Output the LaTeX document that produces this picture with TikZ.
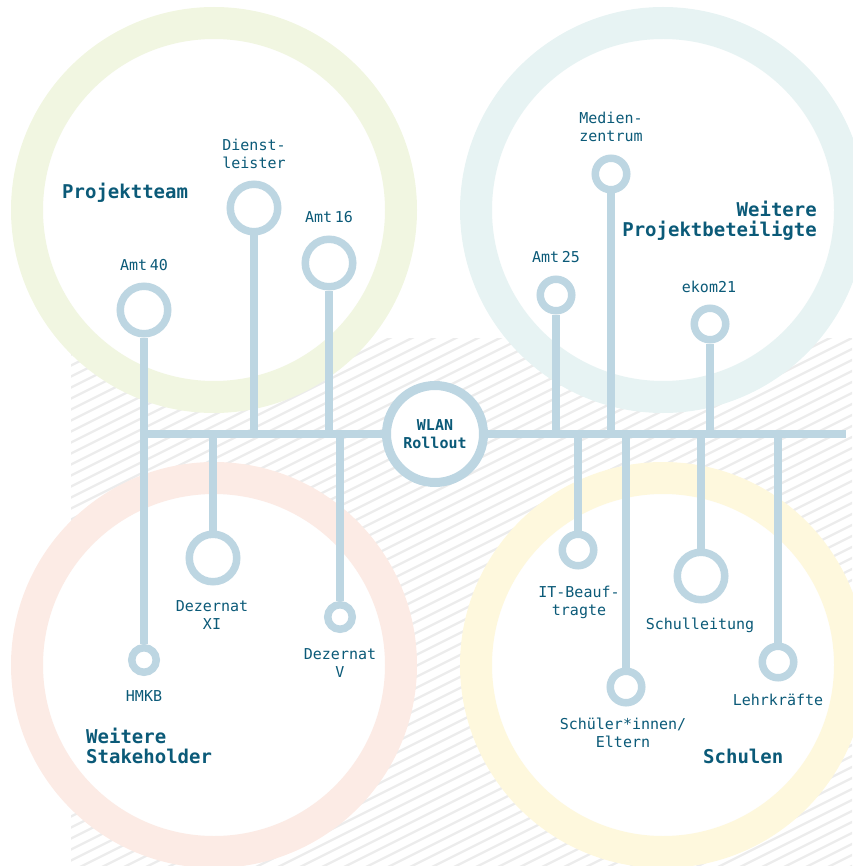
\documentclass[tikz,border=0pt]{standalone}
\usepackage{fontspec}
\newfontfamily\labelfont{DejaVu Sans Mono}
\definecolor{ink}{HTML}{0B5A78}
\definecolor{wirecol}{HTML}{BDD6E2}
\definecolor{ringgreen}{HTML}{F1F6E1}
\definecolor{ringteal}{HTML}{E7F3F3}
\definecolor{ringpink}{HTML}{FCEBE5}
\definecolor{ringyellow}{HTML}{FEF8DD}
\definecolor{hatchgray}{HTML}{ECECEC}
\begin{document}
\begin{tikzpicture}[x=1pt,y=-1pt,
  ring/.style={line width=32pt, draw=#1, fill=white},
  hatchline/.style={line width=2.4pt, draw=hatchgray},
  wire/.style={line width=7.5pt, draw=wirecol},
  knot/.style={circle, draw=wirecol, line width=7.5pt, fill=white, inner sep=0pt, minimum size=#1},
  knot/.default=31.5pt,
  hub/.style={circle, draw=wirecol, line width=9pt, fill=white, inner sep=0pt,
    minimum size=97pt, font=\labelfont\bfseries\fontsize{15}{18}\selectfont,
    text=ink, align=center},
  lbl/.style={font=\labelfont\fontsize{15}{18}\selectfont, text=ink,
    align=center, inner sep=0pt, anchor=base},
  grouptitle/.style={font=\labelfont\bfseries\fontsize{19}{20}\selectfont,
    text=ink, inner sep=0pt},
]
\useasboundingbox (0,0) rectangle (852,866);

% hatched backdrop
\begin{scope}
  \clip (71,338) rectangle (852,866);
  \foreach \c in {338,349,...,1320}
    \draw[hatchline] (60,\c) -- (860,\c-400);
\end{scope}

% four group rings
\draw[ring=ringgreen]  (214,210) circle[radius=187pt];
\draw[ring=ringteal]   (663,210) circle[radius=187pt];
\draw[ring=ringpink]   (214,665) circle[radius=187pt];
\draw[ring=ringyellow] (663,665) circle[radius=187pt];

% hub and bus
\node[hub] (hub) at (435,434) {WLAN\\Rollout};
\coordinate (busL) at (144,434);
\coordinate (busR) at (846,434);
\draw[wire] (busL) -- (hub.west);
\draw[wire] (hub.east) -- (busR);

% stakeholder knots
\node[knot=47.5pt] (amt40)  at (144,310) {};
\node[knot=47.5pt] (dienst) at (254,208) {};
\node[knot=47.5pt] (amt16)  at (329,263) {};
\node[knot]        (amt25)  at (556,295) {};
\node[knot]        (medien) at (611,174) {};
\node[knot]        (ekom)   at (710,324) {};
\node[knot=24.5pt] (hmkb)   at (144,660) {};
\node[knot=47.5pt] (dezXI)  at (213,558) {};
\node[knot=24.5pt] (dezV)   at (340,617) {};
\node[knot]        (itb)    at (578,550) {};
\node[knot]        (schueler) at (626,687) {};
\node[knot=47.5pt] (leitung)  at (701,576) {};
\node[knot]        (lehrer)   at (778,662) {};

% branches
\draw[wire] (amt40.south) -- (hmkb.north);
\draw[wire] (dienst.south) -- (dienst |- busL);
\draw[wire] (amt16.south) -- (amt16 |- busL);
\draw[wire] (amt25.south) -- (amt25 |- busR);
\draw[wire] (medien.south) -- (medien |- busR);
\draw[wire] (ekom.south) -- (ekom |- busR);
\draw[wire] (dezXI |- busL) -- (dezXI.north);
\draw[wire] (dezV |- busL) -- (dezV.north);
\draw[wire] (itb |- busR) -- (itb.north);
\draw[wire] (schueler |- busR) -- (schueler.north);
\draw[wire] (leitung |- busR) -- (leitung.north);
\draw[wire] (lehrer |- busR) -- (lehrer.north);

% labels (base anchor of a two-line label sits on its last line)
\node[lbl] (l-amt40)  at (144,271) {Amt\,40};
\node[lbl] (l-dienst) at (254,169) {Dienst-\\leister};
\node[lbl] (l-amt16)  at (329,223) {Amt\,16};
\node[lbl] (l-amt25)  at (556,263) {Amt\,25};
\node[lbl] (l-medien) at (611,142) {Medien-\\zentrum};
\node[lbl] (l-ekom)   at (709,292) {ekom21};
\node[lbl] (l-hmkb)   at (144,701) {HMKB};
\node[lbl] (l-dezXI)  at (212,629) {Dezernat\\XI};
\node[lbl] (l-dezV)   at (340,677) {Dezernat\\V};
\node[lbl] (l-itb)    at (579,615) {IT-Beauf-\\tragte};
\node[lbl] (l-leitung) at (700,629) {Schulleitung};
\node[lbl] (l-schueler) at (623,747) {Schüler*innen/\\Eltern};
\node[lbl] (l-lehrer) at (778,705) {Lehrkräfte};

% group titles
\node[grouptitle, anchor=base west] (g-team) at (62,199) {Projektteam};
\node[grouptitle, anchor=base east, align=right] (g-weitere) at (817,237) {Weitere\\Projektbeteiligte};
\node[grouptitle, anchor=base west, align=left] (g-stake) at (86,763) {Weitere\\Stakeholder};
\node[grouptitle, anchor=base west] (g-schulen) at (703,763) {Schulen};
\end{tikzpicture}
\end{document}
